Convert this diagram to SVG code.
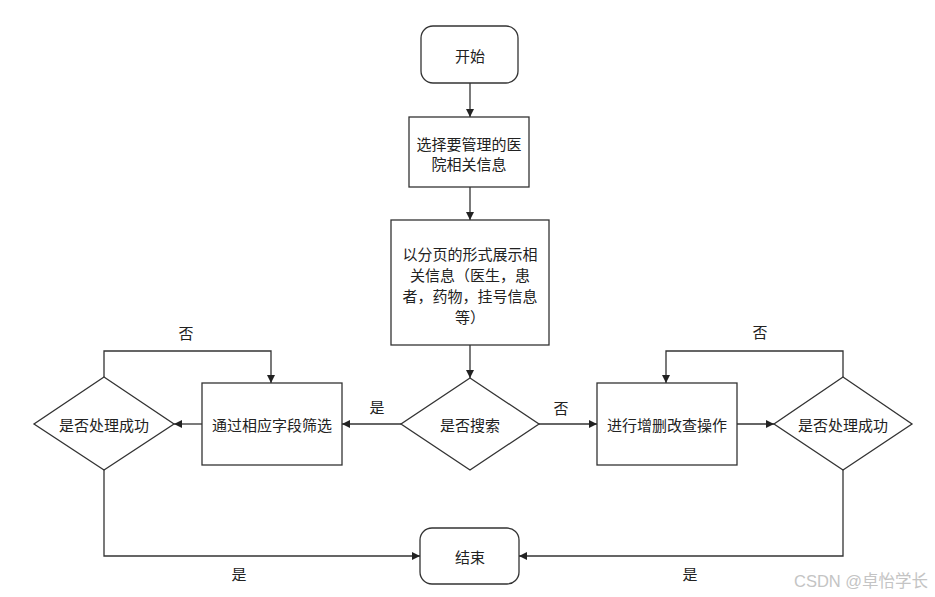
<svg xmlns="http://www.w3.org/2000/svg" width="935" height="597" viewBox="0 0 935 597">
<defs>
<marker id="arr" viewBox="0 0 10 10" refX="10" refY="5" markerWidth="8" markerHeight="8" markerUnits="userSpaceOnUse" orient="auto">
<path d="M0,0 L10,5 L0,10 z" fill="#222"/>
</marker>
<style>
.n{fill:#fff;stroke:#333;stroke-width:1.3}
.t{font-family:"Noto Sans CJK SC","Noto Sans",sans-serif;font-size:15px;fill:#222;text-anchor:middle;dominant-baseline:central}
.c{fill:none;stroke:#333;stroke-width:1.3;marker-end:url(#arr)}
.w{font-family:"Liberation Sans","Noto Sans CJK SC",sans-serif;font-size:16.5px;fill:#c4c4c4}
</style>
</defs>
<rect width="935" height="597" fill="#fff"/>
<g id="connectors">
<path class="c" d="M470,83 L470,117"/>
<path class="c" d="M470,187 L470,220"/>
<path class="c" d="M470,345 L470,378"/>
<path class="c" d="M401,424 L342,424"/>
<path class="c" d="M202,424 L174,424"/>
<path class="c" d="M104,377 L104,351 L271,351 L271,383"/>
<path class="c" d="M104,470 L104,556 L420,556"/>
<path class="c" d="M539,424 L597,424"/>
<path class="c" d="M737,424 L774,424"/>
<path class="c" d="M843,377 L843,351 L666,351 L666,383"/>
<path class="c" d="M843,470 L843,556 L519,556"/>
<text class="t" x="377" y="406">是</text>
<text class="t" x="561" y="407">否</text>
<text class="t" x="186" y="332">否</text>
<text class="t" x="760" y="331">否</text>
<text class="t" x="239" y="573">是</text>
<text class="t" x="690" y="573">是</text>
</g>
<g id="start">
<rect class="n" x="421" y="26" width="97" height="57" rx="12"/>
<text class="t" x="470" y="55">开始</text>
</g>
<g id="select">
<rect class="n" x="409" y="117" width="120" height="70"/>
<text class="t" x="469" y="143">选择要管理的医</text>
<text class="t" x="469" y="163">院相关信息</text>
</g>
<g id="show">
<rect class="n" x="391" y="220" width="158" height="125"/>
<text class="t" x="470" y="253">以分页的形式展示相</text>
<text class="t" x="470" y="274">关信息（医生，患</text>
<text class="t" x="470" y="295">者，药物，挂号信息</text>
<text class="t" x="470" y="316">等）</text>
</g>
<g id="search">
<path class="n" d="M470,378 L539,424 L470,470 L401,424 z"/>
<text class="t" x="470" y="424">是否搜索</text>
</g>
<g id="filter">
<rect class="n" x="202" y="383" width="140" height="82"/>
<text class="t" x="272" y="424">通过相应字段筛选</text>
</g>
<g id="success-left">
<path class="n" d="M104,377 L174,424 L104,470 L34,424 z"/>
<text class="t" x="104" y="424">是否处理成功</text>
</g>
<g id="crud">
<rect class="n" x="597" y="383" width="140" height="82"/>
<text class="t" x="667" y="424">进行增删改查操作</text>
</g>
<g id="success-right">
<path class="n" d="M843,377 L912,424 L843,470 L774,424 z"/>
<text class="t" x="843" y="424">是否处理成功</text>
</g>
<g id="end">
<rect class="n" x="420" y="528" width="99" height="56" rx="12"/>
<text class="t" x="470" y="556">结束</text>
</g>
<text class="w" x="794" y="587">CSDN @卓怡学长</text>
</svg>
